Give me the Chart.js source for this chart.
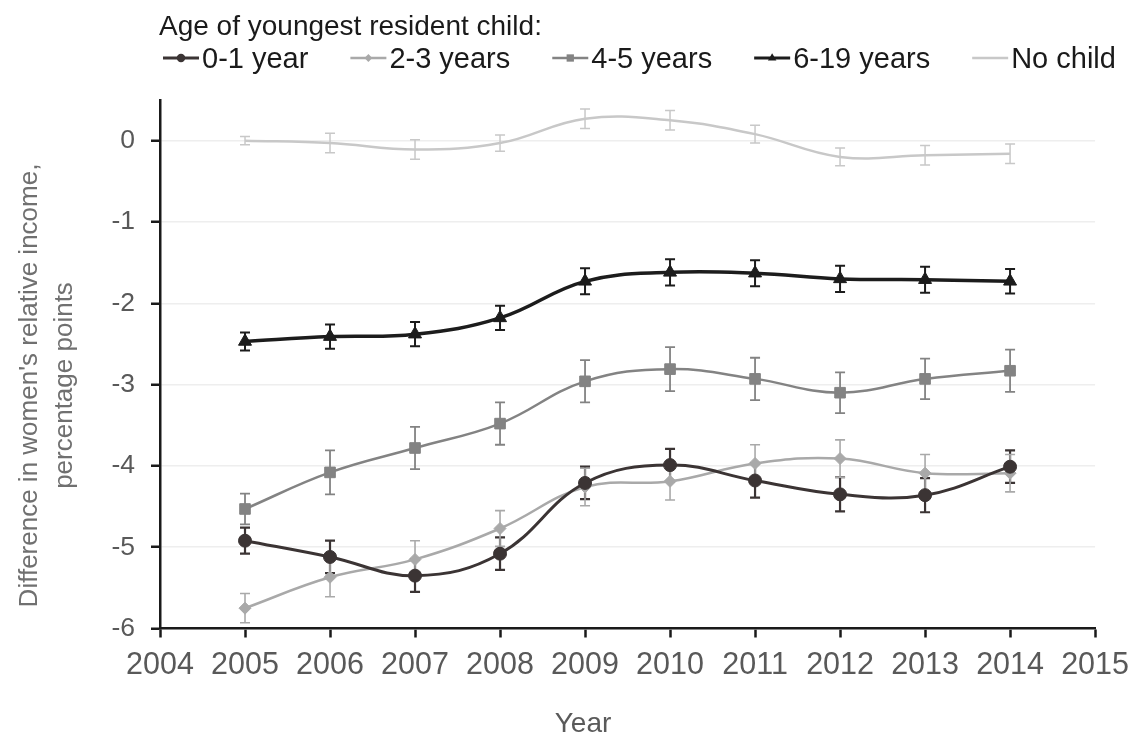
<!DOCTYPE html>
<html>
<head>
<meta charset="utf-8">
<script src="https://cdn.jsdelivr.net/npm/chart.js@4.4.1/dist/chart.umd.min.js"></script>
<style>
  html, body { margin: 0; padding: 0; background: #ffffff; }
  #wrap { width: 1139px; height: 738px; position: relative; }
</style>
</head>
<body>
<div id="wrap"><canvas id="chart" width="1139" height="738"></canvas></div>
<script>
// Survey years
const years = [2005, 2006, 2007, 2008, 2009, 2010, 2011, 2012, 2013, 2014];

// Difference in women's relative income (percentage points) and error margins
const age0to1     = [-4.92, -5.12, -5.35, -5.08, -4.21, -3.99, -4.18, -4.35, -4.36, -4.01];
const age0to1Err  = [0.16, 0.20, 0.20, 0.20, 0.20, 0.20, 0.21, 0.21, 0.21, 0.20];
const age2to3     = [-5.75, -5.37, -5.15, -4.77, -4.26, -4.19, -3.97, -3.91, -4.09, -4.09];
const age2to3Err  = [0.18, 0.24, 0.23, 0.22, 0.23, 0.23, 0.23, 0.23, 0.23, 0.23];
const age4to5     = [-4.53, -4.08, -3.78, -3.48, -2.96, -2.81, -2.93, -3.10, -2.93, -2.83];
const age4to5Err  = [0.19, 0.27, 0.26, 0.26, 0.26, 0.27, 0.26, 0.25, 0.25, 0.26];
const age6to19    = [-2.47, -2.41, -2.38, -2.18, -1.73, -1.62, -1.63, -1.70, -1.71, -1.73];
const age6to19Err = [0.11, 0.15, 0.15, 0.15, 0.16, 0.16, 0.16, 0.16, 0.16, 0.15];
const noChild     = [0.00, -0.03, -0.11, -0.03, 0.27, 0.25, 0.08, -0.20, -0.18, -0.16];
const noChildErr  = [0.05, 0.12, 0.12, 0.10, 0.12, 0.12, 0.11, 0.11, 0.12, 0.12];

// Labels
const seriesLabels = ['0-1 year', '2-3 years', '4-5 years', '6-19 years', 'No child'];
const legendTitle = 'Age of youngest resident child:';
const yTitleLines = ["Difference in women's relative income,", 'percentage points'];
const xTitle = 'Year';

const FONT = "'Liberation Sans', Arial, Helvetica, sans-serif";

function toPoints(vals) {
  return years.map((x, i) => ({ x: x, y: vals[i] }));
}

// Series styling
const styles = [
  { color: '#3b3434', width: 3,   marker: 'circle',   radius: 6.5, err: 2.2 },
  { color: '#a9a9a9', width: 2.5, marker: 'rectRot',  radius: 6,   err: 1.6 },
  { color: '#838383', width: 2.5, marker: 'rect',     radius: 7.5, err: 1.8 },
  { color: '#1c1c1c', width: 3.5, marker: 'triangle', radius: 7.5, err: 2.0 },
  { color: '#c8c8c8', width: 2.5, marker: false,      radius: 0,   err: 1.5 }
];
const seriesValues = [age0to1, age2to3, age4to5, age6to19, noChild];
const seriesErrors = [age0to1Err, age2to3Err, age4to5Err, age6to19Err, noChildErr];
const drawOrder = [2, 3, 1, 0, 4];

const datasets = seriesValues.map((vals, i) => ({
  label: seriesLabels[i],
  data: toPoints(vals),
  errors: seriesErrors[i],
  borderColor: styles[i].color,
  backgroundColor: styles[i].color,
  borderWidth: styles[i].width,
  pointStyle: styles[i].marker || 'circle',
  pointRadius: styles[i].radius,
  pointBorderWidth: 1,
  pointBorderColor: styles[i].color,
  pointBackgroundColor: styles[i].color,
  tension: 0.4,
  fill: false,
  order: drawOrder[i]
}));

// Error bars drawn through the chart's own scales
const errorBars = {
  id: 'errorBars',
  beforeDatasetsDraw(chart) {
    const ctx = chart.ctx;
    const yScale = chart.scales.y;
    ctx.save();
    chart.data.datasets.forEach((ds, di) => {
      const meta = chart.getDatasetMeta(di);
      ctx.strokeStyle = ds.borderColor;
      ctx.lineWidth = styles[di].err;
      meta.data.forEach((pt, i) => {
        const v = ds.data[i].y, e = ds.errors[i];
        const yTop = yScale.getPixelForValue(v + e);
        const yBot = yScale.getPixelForValue(v - e);
        const x = pt.x, cap = 5;
        ctx.beginPath();
        ctx.moveTo(x, yTop); ctx.lineTo(x, yBot);
        ctx.moveTo(x - cap, yTop); ctx.lineTo(x + cap, yTop);
        ctx.moveTo(x - cap, yBot); ctx.lineTo(x + cap, yBot);
        ctx.stroke();
      });
    });
    ctx.restore();
  }
};

function drawMarker(ctx, kind, x, y, r, color) {
  if (!kind) return;
  ctx.fillStyle = color;
  ctx.beginPath();
  if (kind === 'circle') {
    ctx.arc(x, y, r, 0, Math.PI * 2);
  } else if (kind === 'rectRot') {
    ctx.moveTo(x, y - r); ctx.lineTo(x + r, y); ctx.lineTo(x, y + r); ctx.lineTo(x - r, y);
    ctx.closePath();
  } else if (kind === 'rect') {
    ctx.rect(x - r * 0.75, y - r * 0.75, r * 1.5, r * 1.5);
  } else if (kind === 'triangle') {
    ctx.moveTo(x, y - r); ctx.lineTo(x + r * 0.87, y + r * 0.5); ctx.lineTo(x - r * 0.87, y + r * 0.5);
    ctx.closePath();
  }
  ctx.fill();
}

// Legend block and axis titles
const annotations = {
  id: 'annotations',
  afterDraw(chart) {
    const ctx = chart.ctx;
    const area = chart.chartArea;
    ctx.save();
    ctx.textAlign = 'left';
    ctx.textBaseline = 'alphabetic';
    ctx.fillStyle = '#1a1a1a';
    ctx.font = '28px ' + FONT;
    ctx.fillText(legendTitle, 159, 35);

    ctx.font = '29px ' + FONT;
    let x = 163;
    const rowY = 58, base = 68, sample = 36, gapText = 3, gapItem = 42;
    seriesLabels.forEach((lab, i) => {
      const st = styles[i];
      ctx.strokeStyle = st.color;
      ctx.lineWidth = Math.min(st.width, 3);
      ctx.beginPath();
      ctx.moveTo(x, rowY); ctx.lineTo(x + sample, rowY);
      ctx.stroke();
      drawMarker(ctx, st.marker, x + sample / 2, rowY, st.radius * 0.65, st.color);
      ctx.fillStyle = '#1a1a1a';
      ctx.fillText(lab, x + sample + gapText, base);
      x += sample + gapText + ctx.measureText(lab).width + gapItem;
    });

    // y axis title (two lines, rotated)
    ctx.fillStyle = '#707070';
    ctx.font = '26px ' + FONT;
    ctx.textAlign = 'center';
    ctx.textBaseline = 'middle';
    const cy = area.bottom - 243;
    [30, 65].forEach((cx, k) => {
      ctx.save();
      ctx.translate(cx, cy);
      ctx.rotate(-Math.PI / 2);
      ctx.fillText(yTitleLines[k], 0, 0);
      ctx.restore();
    });

    // x axis title
    ctx.fillStyle = '#5a5a5a';
    ctx.font = '28px ' + FONT;
    ctx.textBaseline = 'alphabetic';
    ctx.fillText(xTitle, 583, 732);
    ctx.restore();
  }
};

new Chart(document.getElementById('chart'), {
  type: 'line',
  data: { datasets: datasets },
  options: {
    responsive: false,
    animation: false,
    layout: { padding: { top: 100, right: 42, left: 0, bottom: 0 } },
    plugins: {
      legend: { display: false },
      tooltip: { enabled: false },
      title: { display: false }
    },
    scales: {
      x: {
        type: 'linear',
        min: 2004,
        max: 2015,
        afterFit(scale) { scale.height = 109.5; },
        ticks: {
          stepSize: 1,
          padding: 10,
          color: '#595959',
          font: { family: FONT, size: 30.5 },
          callback: v => String(v)
        },
        grid: {
          drawOnChartArea: false,
          drawTicks: true,
          tickLength: 9,
          tickWidth: 2.5,
          tickColor: '#1a1a1a'
        },
        border: { display: true, color: '#1a1a1a', width: 2.5 }
      },
      y: {
        type: 'linear',
        min: -6,
        max: 0.5,
        afterFit(scale) { scale.width = 160; },
        ticks: {
          stepSize: 1,
          includeBounds: false,
          padding: 16,
          color: '#595959',
          font: { family: FONT, size: 26.5 },
          callback: v => String(v)
        },
        grid: {
          color: '#eeeeee',
          lineWidth: 1.5,
          drawTicks: true,
          tickLength: 9,
          tickWidth: 2.5,
          tickColor: '#1a1a1a'
        },
        border: { display: true, color: '#1a1a1a', width: 2.5 }
      }
    }
  },
  plugins: [errorBars, annotations]
});
</script>
</body>
</html>
